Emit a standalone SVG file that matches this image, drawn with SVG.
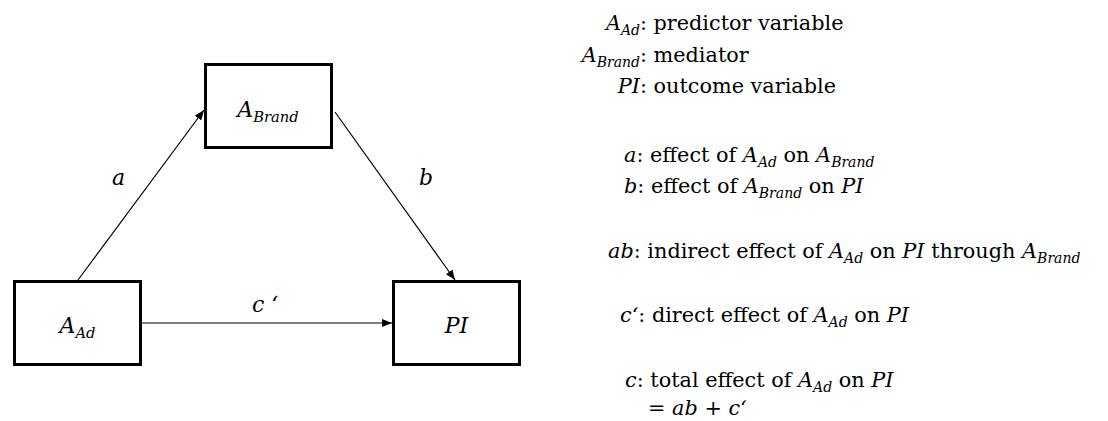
<svg xmlns="http://www.w3.org/2000/svg" width="1108" height="421" viewBox="0 0 1108 421">
<style>
text{font-family:"DejaVu Serif","Liberation Serif",serif;font-size:20.8px;fill:#000}
.i{font-style:italic}
.s{font-size:14px;font-style:italic}
.n{font-size:22px}
.ns{font-size:14.7px;font-style:italic}
.box{fill:#fff;stroke:#000;stroke-width:3}
.edge{fill:none;stroke:#000;stroke-width:1.2}
</style>
<defs>
<marker id="ah" markerUnits="userSpaceOnUse" markerWidth="10" markerHeight="8" refX="10" refY="4" orient="auto">
<path d="M0,0 L10,4 L0,8 z" fill="#000"/>
</marker>
</defs>
<rect width="1108" height="421" fill="#fff"/>
<g id="connectors">
<line class="edge" x1="78" y1="280" x2="204" y2="110" marker-end="url(#ah)"/>
<line class="edge" x1="335" y1="112" x2="455" y2="280" marker-end="url(#ah)"/>
<line class="edge" x1="142" y1="323" x2="392" y2="323" marker-end="url(#ah)"/>
<text class="i n" x="118.5" y="185" text-anchor="middle">a</text>
<text class="i n" x="426" y="185" text-anchor="middle">b</text>
<text class="i n" x="252" y="312">c ‘</text>
</g>
<g id="node-abrand">
<rect class="box" x="205.5" y="64.5" width="126" height="83"/>
<text class="n" x="268" y="117" text-anchor="middle"><tspan class="i">A</tspan><tspan class="ns" dy="5">Brand</tspan></text>
</g>
<g id="node-aad">
<rect class="box" x="14.5" y="281.5" width="126" height="83"/>
<text class="n" x="77.5" y="333" text-anchor="middle"><tspan class="i">A</tspan><tspan class="ns" dy="5">Ad</tspan></text>
</g>
<g id="node-pi">
<rect class="box" x="393.5" y="281.5" width="126" height="83"/>
<text class="i n" x="456.5" y="333" text-anchor="middle">PI</text>
</g>
<g id="legend">
<text x="647" y="30" text-anchor="end"><tspan class="i">A</tspan><tspan class="s" dy="4.5">Ad</tspan><tspan dy="-4.5">:</tspan></text>
<text x="653.5" y="30">predictor variable</text>
<text x="647" y="62" text-anchor="end"><tspan class="i">A</tspan><tspan class="s" dy="4.5">Brand</tspan><tspan dy="-4.5">:</tspan></text>
<text x="653.5" y="62">mediator</text>
<text x="647" y="93" text-anchor="end"><tspan class="i">PI</tspan>:</text>
<text x="653.5" y="93">outcome variable</text>
<text x="624" y="162"><tspan class="i">a</tspan>: effect of <tspan class="i">A</tspan><tspan class="s" dy="4.5">Ad</tspan><tspan dy="-4.5"> on </tspan><tspan class="i">A</tspan><tspan class="s" dy="4.5">Brand</tspan></text>
<text x="624" y="193"><tspan class="i">b</tspan>: effect of <tspan class="i">A</tspan><tspan class="s" dy="4.5">Brand</tspan><tspan dy="-4.5"> on </tspan><tspan class="i">PI</tspan></text>
<text x="608" y="258"><tspan class="i">ab</tspan>: indirect effect of <tspan class="i">A</tspan><tspan class="s" dy="4.5">Ad</tspan><tspan dy="-4.5"> on </tspan><tspan class="i">PI</tspan> through <tspan class="i">A</tspan><tspan class="s" dy="4.5">Brand</tspan></text>
<text x="620" y="322"><tspan class="i">c‘</tspan>: direct effect of <tspan class="i">A</tspan><tspan class="s" dy="4.5">Ad</tspan><tspan dy="-4.5"> on </tspan><tspan class="i">PI</tspan></text>
<text x="625" y="387"><tspan class="i">c</tspan>: total effect of <tspan class="i">A</tspan><tspan class="s" dy="4.5">Ad</tspan><tspan dy="-4.5"> on </tspan><tspan class="i">PI</tspan></text>
<text x="648" y="415">= <tspan class="i">ab</tspan> + <tspan class="i">c‘</tspan></text>
</g>
</svg>
